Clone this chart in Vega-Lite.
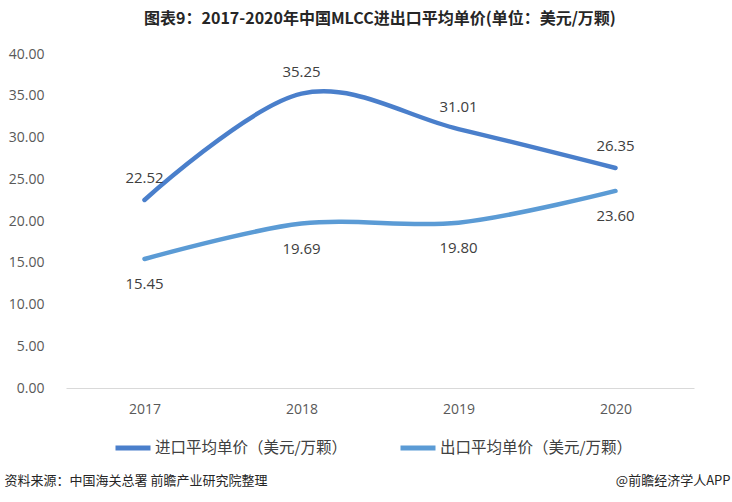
{
  "$schema": "https://vega.github.io/schema/vega-lite/v6.json",
  "width": 628,
  "height": 334,
  "autosize": {"type": "none"},
  "padding": {"left": 66, "top": 54, "right": 38, "bottom": 114},
  "background": "#ffffff",
  "title": {
    "text": "图表9：2017-2020年中国MLCC进出口平均单价(单位：美元/万颗)",
    "font": "Noto Sans CJK SC",
    "fontSize": 16,
    "fontWeight": "bold",
    "color": "#262626",
    "anchor": "middle",
    "frame": "group",
    "offset": 20
  },
  "data": {
    "values": [
      {"year": "2017", "series": "进口平均单价（美元/万颗）", "value": 22.52},
      {"year": "2018", "series": "进口平均单价（美元/万颗）", "value": 35.25},
      {"year": "2019", "series": "进口平均单价（美元/万颗）", "value": 31.01},
      {"year": "2020", "series": "进口平均单价（美元/万颗）", "value": 26.35},
      {"year": "2017", "series": "出口平均单价（美元/万颗）", "value": 15.45},
      {"year": "2018", "series": "出口平均单价（美元/万颗）", "value": 19.69},
      {"year": "2019", "series": "出口平均单价（美元/万颗）", "value": 19.80},
      {"year": "2020", "series": "出口平均单价（美元/万颗）", "value": 23.60}
    ]
  },
  "encoding": {
    "x": {
      "field": "year",
      "type": "ordinal",
      "scale": {"paddingInner": 0, "paddingOuter": 0},
      "axis": {
        "title": "资料来源：中国海关总署 前瞻产业研究院整理",
        "titleFont": "Noto Sans CJK SC",
        "titleFontSize": 13,
        "titleFontWeight": "normal",
        "titleColor": "#262626",
        "titleAnchor": "start",
        "titleAlign": "left",
        "titleBaseline": "middle",
        "titleX": -62,
        "titleY": 92,
        "labelAngle": 0,
        "labelFont": "Open Sans",
        "labelFontSize": 14,
        "labelColor": "#595959",
        "labelPadding": 14,
        "ticks": false,
        "domainColor": "#d9d9d9",
        "domainWidth": 1,
        "grid": false
      }
    },
    "y": {
      "field": "value",
      "type": "quantitative",
      "scale": {"domain": [0, 40], "nice": false},
      "axis": {
        "values": [0, 5, 10, 15, 20, 25, 30, 35, 40],
        "format": ".2f",
        "title": "@前瞻经济学人APP",
        "titleFont": "Noto Sans CJK SC",
        "titleFontSize": 13,
        "titleFontWeight": "normal",
        "titleColor": "#262626",
        "titleAngle": 0,
        "titleAlign": "right",
        "titleBaseline": "middle",
        "titleX": 664,
        "titleY": 426,
        "labelFont": "Open Sans",
        "labelFontSize": 14,
        "labelColor": "#595959",
        "labelPadding": 22,
        "ticks": false,
        "domain": false,
        "grid": false
      }
    },
    "color": {
      "field": "series",
      "type": "nominal",
      "sort": ["进口平均单价（美元/万颗）", "出口平均单价（美元/万颗）"],
      "scale": {
        "domain": ["进口平均单价（美元/万颗）", "出口平均单价（美元/万颗）"],
        "range": ["#4a7fcb", "#5b9bd5"]
      },
      "legend": {
        "title": null,
        "orient": "none",
        "legendX": 47,
        "legendY": 374,
        "direction": "horizontal",
        "symbolType": "stroke",
        "symbolSize": 1225,
        "symbolStrokeWidth": 5,
        "labelFont": "Noto Sans CJK SC",
        "labelFontSize": 15.5,
        "labelColor": "#404040",
        "labelLimit": 0,
        "labelOffset": 2,
        "columnPadding": 42,
        "padding": 0
      }
    }
  },
  "layer": [
    {
      "mark": {"type": "line", "interpolate": "cardinal", "strokeWidth": 4.5, "strokeCap": "round"}
    },
    {
      "transform": [{"filter": "datum.series == '进口平均单价（美元/万颗）'"}],
      "mark": {"type": "text", "dy": -22, "font": "Open Sans", "fontSize": 15},
      "encoding": {
        "text": {"field": "value", "type": "quantitative", "format": ".2f"},
        "color": {"value": "#404040"}
      }
    },
    {
      "transform": [{"filter": "datum.series == '出口平均单价（美元/万颗）'"}],
      "mark": {"type": "text", "dy": 25, "font": "Open Sans", "fontSize": 15},
      "encoding": {
        "text": {"field": "value", "type": "quantitative", "format": ".2f"},
        "color": {"value": "#404040"}
      }
    }
  ],
  "config": {"view": {"stroke": null}}
}
